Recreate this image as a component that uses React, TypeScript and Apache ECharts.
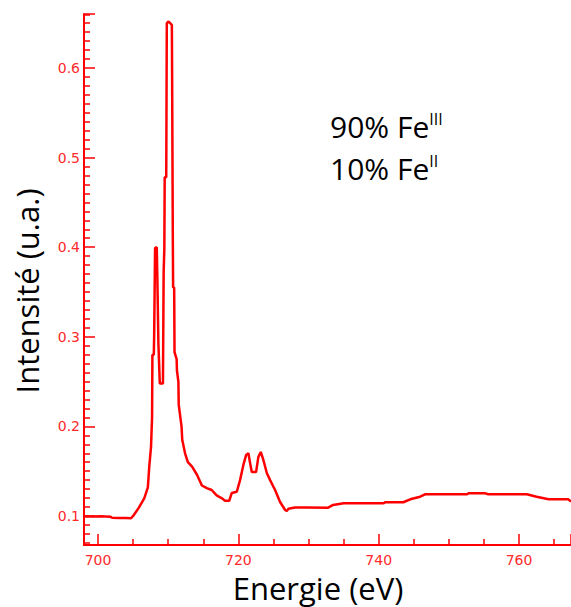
import React, { useEffect, useRef } from "react";
import * as echarts from "echarts";

// Energy (eV) and intensity (u.a.)
const energy: number[] = [
  698.0, 699.5, 700.5, 701.0, 701.8, 702.0, 703.0, 704.0, 704.7, 705.1,
  705.8, 706.6, 707.1, 707.3, 707.55, 707.7, 707.75, 707.95, 708.0, 708.1,
  708.13, 708.37, 708.45, 708.6, 708.8, 709.25, 709.35, 709.45, 709.5, 709.72,
  709.8, 710.0, 710.3, 710.52, 710.56, 710.62, 710.66, 710.7, 710.85, 710.9,
  711.2, 711.25, 711.45, 711.5, 711.9, 712.0, 712.4, 712.8, 713.4, 714.1,
  714.8, 715.5, 716.2, 716.9, 717.6, 718.1, 718.7, 719.06, 719.77, 720.24,
  720.71, 721.1, 721.43, 721.67, 721.91, 722.52, 722.85, 723.19, 723.56, 724.05,
  724.52, 725.23, 725.94, 726.66, 726.9, 727.13, 728.08, 729.8, 732.8, 733.5,
  735.0, 740.7, 740.9, 743.5, 744.5, 745.9, 746.6, 752.6, 752.8, 755.2,
  755.6, 761.1, 762.5, 764.2, 767.0, 767.4,
];
const intensity: number[] = [
  0.0995, 0.0995, 0.0997, 0.0995, 0.099, 0.098, 0.0978, 0.0978, 0.0975, 0.101,
  0.109, 0.12, 0.132, 0.155, 0.177, 0.21, 0.28, 0.28, 0.302, 0.302,
  0.399, 0.4, 0.367, 0.293, 0.248, 0.248, 0.372, 0.399, 0.478, 0.478,
  0.65, 0.652, 0.65, 0.648, 0.587, 0.587, 0.406, 0.355, 0.355, 0.283,
  0.275, 0.262, 0.25, 0.224, 0.2, 0.185, 0.17, 0.16, 0.155, 0.146,
  0.134, 0.131, 0.129, 0.123, 0.12, 0.117, 0.117, 0.1257, 0.127, 0.14,
  0.157, 0.168, 0.17, 0.159, 0.149, 0.149, 0.166, 0.1714, 0.1625, 0.148,
  0.14, 0.129, 0.1156, 0.1067, 0.1056, 0.108, 0.1095, 0.1095, 0.1093, 0.1123,
  0.1142, 0.1142, 0.1153, 0.1153, 0.1186, 0.1215, 0.1242, 0.1242, 0.1253, 0.1253,
  0.1242, 0.1242, 0.1215, 0.1186, 0.1186, 0.116,
];

const xTitle = "Energie (eV)";
const yTitle = "Intensité (u.a.)";
const annotLines: string[][] = [
  ["90% Fe", "III"],
  ["10% Fe", "II"],
];

const RED = "#ff0000";
const LABEL_RED = "#ff2a2a";

export default function App() {
  const ref = useRef<HTMLDivElement>(null);
  useEffect(() => {
    if (!ref.current) return;
    const chart = echarts.init(ref.current, undefined, { renderer: "svg" });
    const data = energy.map((e, i) => [e, intensity[i]]);
    const axisCommon = {
      axisLine: { show: true, lineStyle: { color: RED, width: 2 } },
      axisTick: { show: true, inside: true, length: 11, lineStyle: { color: RED, width: 1.5 } },
      minorTick: { show: true, length: 6, lineStyle: { color: RED, width: 1.5 } },
      splitLine: { show: false },
      minorSplitLine: { show: false },
      axisLabel: {
        color: LABEL_RED,
        fontFamily: "DejaVu Sans",
        fontSize: 14,
        showMinLabel: false,
        showMaxLabel: false,
      },
    };
    chart.setOption({
      animation: false,
      backgroundColor: "#ffffff",
      grid: { left: 84, right: 0, top: 14, bottom: 62, containLabel: false, outerBoundsMode: "none" },
      xAxis: {
        type: "value",
        min: 698,
        max: 767.4,
        minInterval: 20,
        maxInterval: 20,
        splitNumber: 3,
        ...axisCommon,
        minorTick: { ...axisCommon.minorTick, splitNumber: 4 },
        axisLabel: { ...axisCommon.axisLabel, margin: 8 },
      },
      yAxis: {
        type: "value",
        min: 0.0676,
        max: 0.6603,
        minInterval: 0.1,
        maxInterval: 0.1,
        splitNumber: 6,
        ...axisCommon,
        minorTick: { ...axisCommon.minorTick, splitNumber: 10 },
        axisLabel: { ...axisCommon.axisLabel, margin: 4 },
      },
      series: [
        {
          type: "line",
          data,
          showSymbol: false,
          symbol: "none",
          lineStyle: { color: RED, width: 2.5 },
          clip: true,
        },
      ],
      graphic: [
        {
          type: "text",
          x: 27,
          y: 291,
          rotation: Math.PI / 2,
          style: {
            text: yTitle,
            fontFamily: "Open Sans",
            fontSize: 31,
            fill: "#000",
            align: "center",
            verticalAlign: "middle",
          },
        },
        {
          type: "text",
          x: 318,
          y: 587.5,
          style: {
            text: xTitle,
            fontFamily: "Open Sans",
            fontSize: 31,
            fill: "#000",
            align: "center",
            verticalAlign: "middle",
          },
        },
        ...annotLines.map((ln, i) => ({
          type: "text",
          x: 330,
          y: 126 + i * 42,
          style: {
            text: `{m|${ln[0]}}{s|${ln[1]}}`,
            fill: "#000",
            align: "left",
            verticalAlign: "middle",
            rich: {
              m: { fontFamily: "Open Sans", fontSize: 30, lineHeight: 30, fill: "#000" },
              s: { fontFamily: "Open Sans", fontSize: 16, lineHeight: 20, verticalAlign: "top", fill: "#000" },
            },
          },
        })),
      ],
    });
    return () => chart.dispose();
  }, []);
  return (
    <div
      ref={ref}
      style={{ position: "fixed", left: 0, top: 0, width: 571, height: 607, background: "#fff" }}
    />
  );
}
